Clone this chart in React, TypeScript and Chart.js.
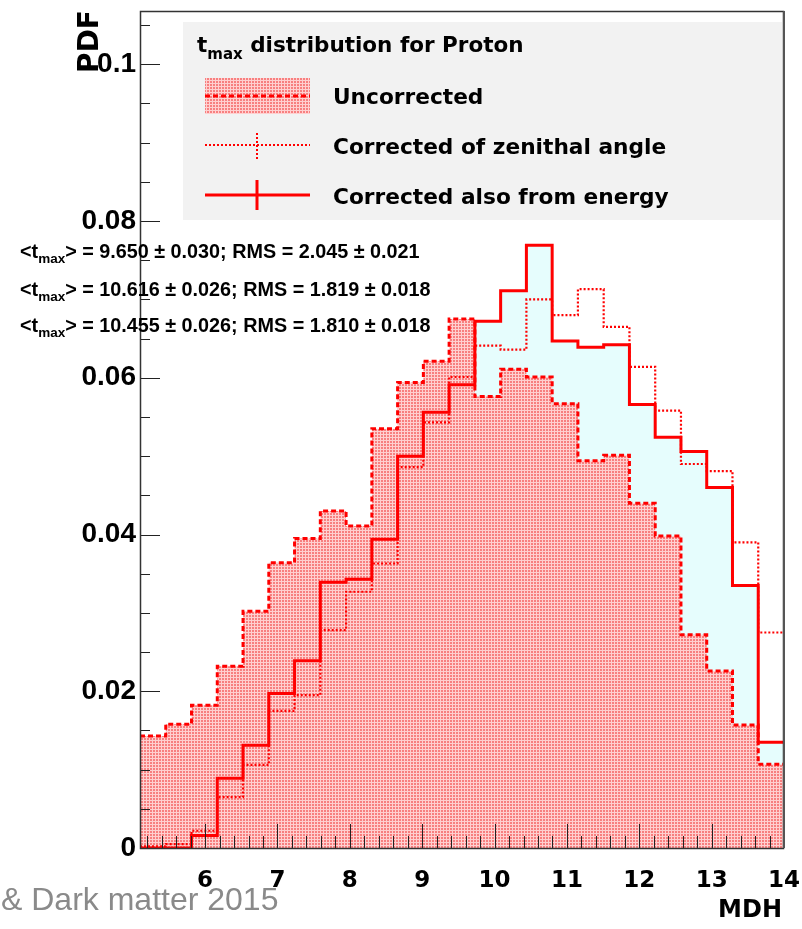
import React, { useEffect, useRef } from 'react';
import { Chart, registerables } from 'chart.js';

Chart.register(...registerables);

// ---- data ----
const X_MIN = 5.1;
const X_MAX = 14;
const N_BINS = 25;
const Y_MAX = 0.1068;

const UNCORRECTED = [
  0.0143, 0.0158, 0.0182, 0.0232, 0.0302, 0.0364, 0.0395, 0.0430, 0.0411, 0.0535,
  0.0594, 0.0621, 0.0675, 0.0576, 0.0611, 0.0601, 0.0567, 0.0494, 0.0501, 0.0440,
  0.0398, 0.0272, 0.0226, 0.0157, 0.0107,
];
const ZENITH = [
  0.0002, 0.0005, 0.0022, 0.0065, 0.0106, 0.0175, 0.0195, 0.0278, 0.0327, 0.0363,
  0.0486, 0.0543, 0.0601, 0.0641, 0.0636, 0.0700, 0.0680, 0.0713, 0.0665, 0.0614,
  0.0558, 0.0490, 0.0481, 0.0390, 0.0275,
];
const ENERGY = [
  0.0, 0.0, 0.0016, 0.0089, 0.0131, 0.0197, 0.0239, 0.0339, 0.0343, 0.0394,
  0.0500, 0.0556, 0.0591, 0.0672, 0.0711, 0.0769, 0.0647, 0.0639, 0.0642, 0.0566,
  0.0524, 0.0506, 0.0460, 0.0335, 0.0135,
];

const X_TICKS = [6, 7, 8, 9, 10, 11, 12, 13, 14];
const Y_TICKS = [0, 0.02, 0.04, 0.06, 0.08, 0.1];
const X_MINOR_STEP = 0.2;
const Y_MINOR_STEP = 0.005;

const LEGEND_TITLE = ['t', 'max', ' distribution for Proton'];
const LEGEND_LABELS = ['Uncorrected', 'Corrected of zenithal angle', 'Corrected also from energy'];

const STAT_MEANS = ['9.650', '10.616', '10.455'];
const STAT_MEAN_ERRS = ['0.030', '0.026', '0.026'];
const STAT_RMS = ['2.045', '1.819', '1.810'];
const STAT_RMS_ERRS = ['0.021', '0.018', '0.018'];

const X_TITLE = 'MDH';
const Y_TITLE = 'PDF';
const FOOTER = '& Dark matter 2015';

const RED = '#ff0000';
const BOLD = 'DejaVu Sans';
const ARIAL = 'Liberation Sans';

function toSteps(values: number[]) {
  const w = (X_MAX - X_MIN) / N_BINS;
  const pts = values.map((v, i) => ({ x: X_MIN + i * w, y: v }));
  pts.push({ x: X_MAX, y: values[values.length - 1] });
  return pts;
}

function makePattern(bg: string, dot: string) {
  const c = document.createElement('canvas');
  c.width = 3;
  c.height = 3;
  const g = c.getContext('2d')!;
  g.fillStyle = bg;
  g.fillRect(0, 0, 3, 3);
  g.fillStyle = dot;
  g.fillRect(0, 0, 2, 2);
  return g.createPattern(c, 'repeat')!;
}

function drawRich(
  ctx: CanvasRenderingContext2D,
  x: number,
  y: number,
  parts: { t: string; sub?: boolean }[],
  size: number,
  subSize: number,
  subDy: number,
  family: string
) {
  let cx = x;
  for (const p of parts) {
    ctx.font = `bold ${p.sub ? subSize : size}px "${family}"`;
    ctx.fillText(p.t, cx, p.sub ? y + subDy : y);
    cx += ctx.measureText(p.t).width;
  }
}

export default function App() {
  const ref = useRef<HTMLCanvasElement>(null);

  useEffect(() => {
    const canvas = ref.current!;
    const pink = makePattern('rgb(255,208,208)', 'rgb(247,128,128)');
    const cyan = 'rgb(230,253,253)';

    const overlay = {
      id: 'overlay',
      afterDatasetsDraw(chart: any) {
        const ctx: CanvasRenderingContext2D = chart.ctx;
        const { left, right, top, bottom } = chart.chartArea;
        const xs = chart.scales.x;
        const ys = chart.scales.y;
        ctx.save();
        ctx.strokeStyle = '#222';
        ctx.lineWidth = 1;
        ctx.beginPath();
        for (let v = 5.2; v < X_MAX - 0.01; v += X_MINOR_STEP) {
          const isMajor = Math.abs(v - Math.round(v)) < 1e-6;
          const px = Math.round(xs.getPixelForValue(v)) + 0.5;
          ctx.moveTo(px, bottom);
          ctx.lineTo(px, bottom - (isMajor ? 24 : 12));
        }
        for (let v = 0; v <= Y_MAX + 1e-9; v += Y_MINOR_STEP) {
          const k = Math.round(v / Y_MINOR_STEP);
          const isMajor = k % 4 === 0;
          const py = Math.round(ys.getPixelForValue(v)) + 0.5;
          ctx.moveTo(left, py);
          ctx.lineTo(left + (isMajor ? 20 : 10), py);
        }
        ctx.stroke();
        ctx.lineWidth = 1.5;
        ctx.strokeStyle = '#333';
        ctx.strokeRect(left + 0.5, top + 0.5, right - left - 1, bottom - top);
        ctx.lineWidth = 2;
        ctx.strokeStyle = '#555';
        ctx.beginPath();
        ctx.moveTo(right, top);
        ctx.lineTo(right, bottom);
        ctx.stroke();
        ctx.restore();
      },
      afterDraw(chart: any) {
        const ctx: CanvasRenderingContext2D = chart.ctx;
        const { right } = chart.chartArea;
        ctx.save();
        // legend box
        ctx.fillStyle = '#f2f2f2';
        ctx.fillRect(183, 22, right - 2 - 183, 198);
        ctx.fillStyle = '#000';
        ctx.textBaseline = 'alphabetic';
        ctx.textAlign = 'left';
        drawRich(
          ctx, 197, 52,
          [{ t: LEGEND_TITLE[0] }, { t: LEGEND_TITLE[1], sub: true }, { t: LEGEND_TITLE[2] }],
          21.5, 15, 7, BOLD
        );
        ctx.font = `bold 21.7px "${BOLD}"`;
        const ys = [104, 154, 204];
        LEGEND_LABELS.forEach((l, i) => ctx.fillText(l, 333, ys[i]));
        // marker 1
        ctx.fillStyle = pink;
        ctx.fillRect(205, 78, 105, 36);
        ctx.strokeStyle = RED;
        ctx.lineWidth = 3;
        ctx.setLineDash([5, 3]);
        ctx.beginPath();
        ctx.moveTo(205, 96);
        ctx.lineTo(310, 96);
        ctx.stroke();
        // marker 2
        ctx.lineWidth = 2;
        ctx.setLineDash([2, 2]);
        ctx.beginPath();
        ctx.moveTo(205, 145);
        ctx.lineTo(310, 145);
        ctx.moveTo(257, 133);
        ctx.lineTo(257, 160);
        ctx.stroke();
        // marker 3
        ctx.lineWidth = 3;
        ctx.setLineDash([]);
        ctx.beginPath();
        ctx.moveTo(205, 195);
        ctx.lineTo(310, 195);
        ctx.moveTo(257, 180);
        ctx.lineTo(257, 210);
        ctx.stroke();
        // stats
        ctx.fillStyle = '#000';
        const sy = [258, 296, 332];
        for (let i = 0; i < 3; i++) {
          drawRich(
            ctx, 20, sy[i],
            [
              { t: '<t' },
              { t: 'max', sub: true },
              { t: `> = ${STAT_MEANS[i]} \u00b1 ${STAT_MEAN_ERRS[i]}; RMS = ${STAT_RMS[i]} \u00b1 ${STAT_RMS_ERRS[i]}` },
            ],
            19.8, 13.5, 5, ARIAL
          );
        }
        // axis titles
        ctx.font = `bold 24px "${BOLD}"`;
        ctx.textAlign = 'right';
        ctx.fillText(X_TITLE, 782, 917);
        ctx.save();
        ctx.translate(98, 10);
        ctx.rotate(-Math.PI / 2);
        ctx.font = `bold 28px "${BOLD}"`;
        ctx.textAlign = 'right';
        ctx.fillText(Y_TITLE, 0, 0);
        ctx.restore();
        // footer
        ctx.textAlign = 'left';
        ctx.font = `32px "${ARIAL}"`;
        ctx.fillStyle = '#8a8a8a';
        ctx.fillText(FOOTER, 1, 910);
        ctx.restore();
      },
    };

    const chart = new Chart(canvas, {
      type: 'line',
      data: {
        datasets: [
          {
            label: 'fill-energy',
            data: toSteps(ENERGY),
            stepped: true,
            borderWidth: 0,
            borderColor: 'rgba(0,0,0,0)',
            backgroundColor: cyan,
            fill: 'origin',
            pointRadius: 0,
            order: 4,
          },
          {
            label: LEGEND_LABELS[0],
            data: toSteps(UNCORRECTED),
            stepped: true,
            borderWidth: 3,
            borderColor: RED,
            borderDash: [5, 3],
            backgroundColor: pink,
            fill: 'origin',
            pointRadius: 0,
            order: 3,
          },
          {
            label: LEGEND_LABELS[1],
            data: toSteps(ZENITH),
            stepped: true,
            borderWidth: 2.2,
            borderColor: RED,
            borderDash: [2, 2],
            fill: false,
            pointRadius: 0,
            order: 2,
          },
          {
            label: LEGEND_LABELS[2],
            data: toSteps(ENERGY),
            stepped: true,
            borderWidth: 3,
            borderColor: RED,
            fill: false,
            pointRadius: 0,
            order: 1,
          },
        ] as any,
      },
      options: {
        animation: false,
        responsive: false,
        devicePixelRatio: 1,
        layout: { padding: { top: 11, right: 18, left: 0, bottom: 0 } },
        plugins: { legend: { display: false }, tooltip: { enabled: false } },
        scales: {
          x: {
            type: 'linear',
            min: X_MIN,
            max: X_MAX,
            grid: { display: false, drawTicks: false },
            border: { display: false },
            ticks: {
              color: '#000',
              font: { family: BOLD, weight: 'bold', size: 23 },
              padding: 19,
              maxRotation: 0,
              autoSkip: false,
              callback: (v: any) => String(v),
            },
            afterBuildTicks: (s: any) => {
              s.ticks = X_TICKS.map((value) => ({ value }));
            },
            afterFit: (s: any) => {
              s.height = 81;
              s.paddingLeft = 0;
              s.paddingRight = 0;
            },
          },
          y: {
            type: 'linear',
            min: 0,
            max: Y_MAX,
            grid: { display: false, drawTicks: false },
            border: { display: false },
            ticks: {
              color: '#000',
              font: { family: ARIAL, weight: 'bold', size: 28 },
              padding: 4,
              autoSkip: false,
              callback: (v: any) => (v === 0 ? '0' : String(Math.round(v * 100) / 100)),
            },
            afterBuildTicks: (s: any) => {
              s.ticks = Y_TICKS.map((value) => ({ value }));
            },
            afterFit: (s: any) => {
              s.width = 140;
              s.paddingTop = 0;
              s.paddingBottom = 0;
            },
          },
        },
      } as any,
      plugins: [overlay],
    });
    return () => chart.destroy();
  }, []);

  return (
    <div style={{ position: 'fixed', left: 0, top: 0, width: 802, height: 929, background: '#fff' }}>
      <canvas ref={ref} width={802} height={929} style={{ display: 'block' }} />
    </div>
  );
}
